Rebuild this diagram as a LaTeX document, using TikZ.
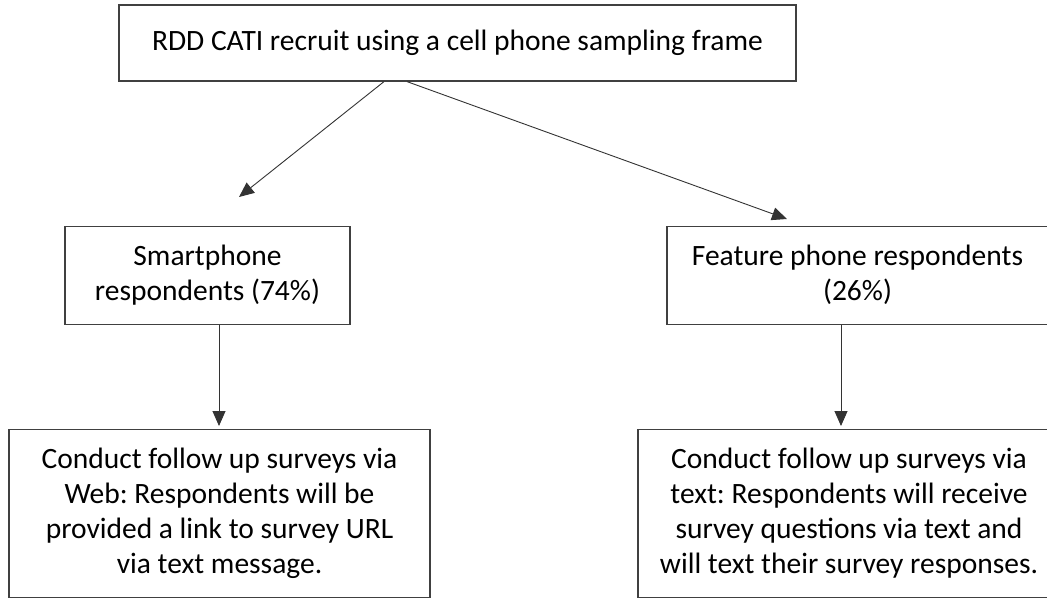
\documentclass[tikz,border=0pt]{standalone}
\usepackage{fontspec}
\setmainfont{Carlito}
\usetikzlibrary{arrows.meta,positioning}
\definecolor{edgecolor}{HTML}{404040}
\frenchspacing

\begin{document}
\begin{tikzpicture}[
  font=\fontsize{29.5pt}{35pt}\selectfont,
  flowbox/.style={rectangle, draw=edgecolor, line width=1.2pt, fill=white, align=center, inner sep=0pt},
  arrow/.style={-{Triangle[length=15pt,width=13pt]}, line width=0.9pt, black!80}
]
\useasboundingbox (0pt,0pt) rectangle (1047pt,-598pt);
\node[flowbox, minimum width=677pt, minimum height=76pt] (recruit) at (457.5pt,-43pt) {RDD CATI recruit using a cell phone sampling frame};
\node[flowbox, minimum width=285pt, minimum height=98pt, below=144pt of recruit.south, xshift=-250pt] (smart) {Smartphone\\respondents (74\%)};
\node[flowbox, minimum width=381pt, minimum height=98pt, below=144pt of recruit.south, xshift=400pt] (feature) {Feature phone respondents\\(26\%)};
\node[flowbox, minimum width=421pt, minimum height=168pt, below=104pt of smart, xshift=12pt] (webfollow) {Conduct follow up surveys via\\Web: Respondents will be\\provided a link to survey URL\\via text message.};
\node[flowbox, minimum width=422pt, minimum height=168pt, below=104pt of feature, xshift=-8.5pt] (textfollow) {Conduct follow up surveys via\\text: Respondents will receive\\survey questions via text and\\will text their survey responses.};
\coordinate (smarttip) at (239pt,-197pt);
\coordinate (featuretip) at (787pt,-219pt);
\coordinate (webtip) at (219pt,-426pt);
\coordinate (texttip) at (841pt,-426pt);
\draw[arrow] ([xshift=-73.5pt]recruit.south) -- (smarttip);
\draw[arrow] ([xshift=-50.5pt]recruit.south) -- (featuretip);
\draw[arrow] (smart.south -| webtip) -- (webtip);
\draw[arrow] (feature.south -| texttip) -- (texttip);
\end{tikzpicture}
\end{document}
